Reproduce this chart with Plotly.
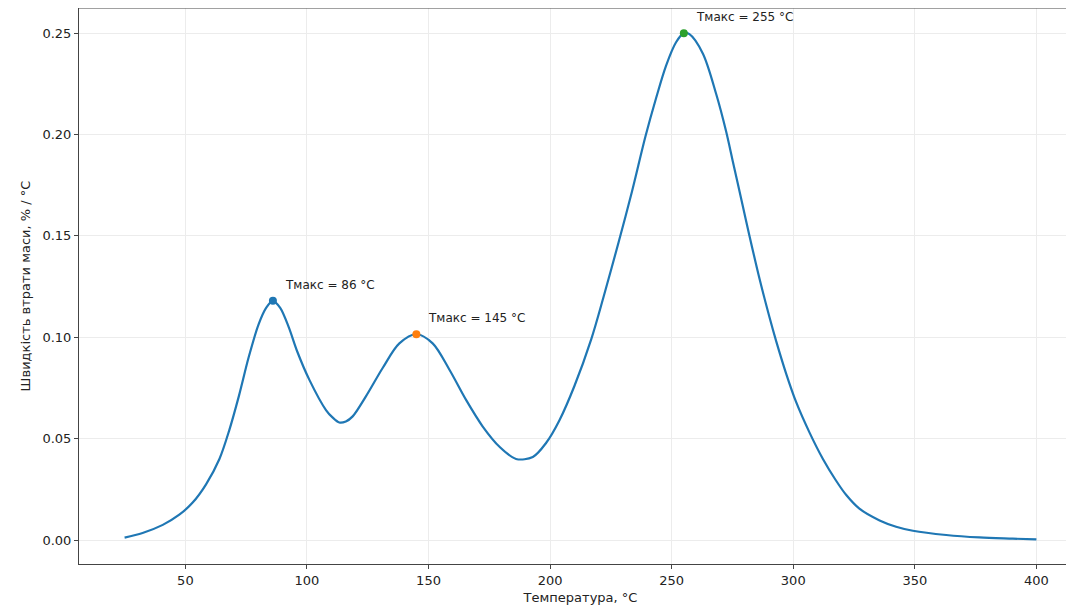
import plotly.graph_objects as go

# Temperature (°C) and DTG (mass-loss rate, % / °C)
temperature = [25, 32.4, 40.7, 47.5, 53, 58.5, 64, 68, 72, 76, 80, 83.2, 86,
               89, 92.5, 96, 101, 107.9, 110.5, 113.3, 116, 118.8, 124.3, 131.2, 138, 145,
               151.7, 158.6, 165.5, 172.3, 179.2, 186, 192.9, 198.4, 203.8, 210, 216.9, 222,
               228.2, 233.7, 239.2, 243.6, 247.7, 251.8, 255, 257.3, 262.8, 268.3, 272.4,
               275.1, 279.2, 282, 286.1, 290.2, 293, 297.1, 301.2, 306.7, 312.2, 317.5,
               321.8, 327.2, 335.5, 342.3, 349.2, 362.9, 376.6, 390.3, 400]
dtg = [0.0012, 0.0035, 0.0075, 0.0125, 0.0185, 0.0275, 0.040, 0.054, 0.071, 0.090, 0.106,
       0.1145, 0.118, 0.1145, 0.105, 0.093, 0.079, 0.064, 0.0605, 0.058, 0.0585, 0.061,
       0.071, 0.085, 0.097, 0.1015, 0.097, 0.084, 0.069, 0.056, 0.046, 0.040, 0.041,
       0.048, 0.059, 0.076, 0.099, 0.120, 0.147, 0.172, 0.199, 0.218, 0.234, 0.2455,
       0.250, 0.2495, 0.240, 0.220, 0.2015, 0.187, 0.165, 0.150, 0.129, 0.110, 0.098,
       0.082, 0.068, 0.053, 0.040, 0.0295, 0.0222, 0.0155, 0.0097, 0.0066, 0.0046, 0.0025,
       0.0013, 0.0007, 0.0003]

peak_t = [86, 145, 255]
peak_v = [0.118, 0.1015, 0.250]
peak_colors = ["#1f77b4", "#ff7f0e", "#2ca02c"]
peak_labels = ["Тмакс = 86 °C", "Тмакс = 145 °C", "Тмакс = 255 °C"]

x_ticks = [50, 100, 150, 200, 250, 300, 350, 400]
y_ticks = [0.00, 0.05, 0.10, 0.15, 0.20, 0.25]

font = "DejaVu Sans"
fig = go.Figure()
fig.add_trace(go.Scatter(x=temperature, y=dtg, mode="lines",
                         line=dict(color="#1f77b4", width=2.2, shape="spline", smoothing=0.9),
                         showlegend=False, hoverinfo="skip"))
for t, v, c, lab in zip(peak_t, peak_v, peak_colors, peak_labels):
    fig.add_trace(go.Scatter(x=[t], y=[v], mode="markers",
                             marker=dict(color=c, size=8), showlegend=False))
    fig.add_annotation(x=t, y=v, xref="x", yref="y", text=lab, showarrow=False,
                       xanchor="left", yanchor="bottom", xshift=10, yshift=7,
                       font=dict(family=font, size=12, color="#222"))

fig.add_shape(type="line", xref="paper", yref="paper", x0=0, x1=1, y0=1, y1=1,
              line=dict(color="#444", width=1))

fig.update_layout(
    width=1074, height=614,
    margin=dict(l=71, r=0, t=0, b=58),
    paper_bgcolor="white", plot_bgcolor="white",
    font=dict(family=font, size=13, color="#222"),
)
fig.update_xaxes(range=[6.25, 418.75], tickvals=x_ticks, ticktext=[str(v) for v in x_ticks],
                 showline=True, linecolor="#444", linewidth=1, ticks="outside", ticklen=4,
                 tickcolor="#444", showgrid=True, gridcolor="#ececec", gridwidth=1,
                 zeroline=False,
                 title=dict(text="Температура, °C", font=dict(family=font, size=13), standoff=6))
fig.update_yaxes(range=[-0.0118, 0.2624], tickvals=y_ticks,
                 ticktext=["%.2f" % v for v in y_ticks],
                 showline=True, linecolor="#444", linewidth=1, ticks="outside", ticklen=4,
                 tickcolor="#444", showgrid=True, gridcolor="#ececec", gridwidth=1,
                 zeroline=False,
                 title=dict(text="Швидкість втрати маси, % / °C", font=dict(family=font, size=13),
                            standoff=8))

fig.write_html("out.html")
